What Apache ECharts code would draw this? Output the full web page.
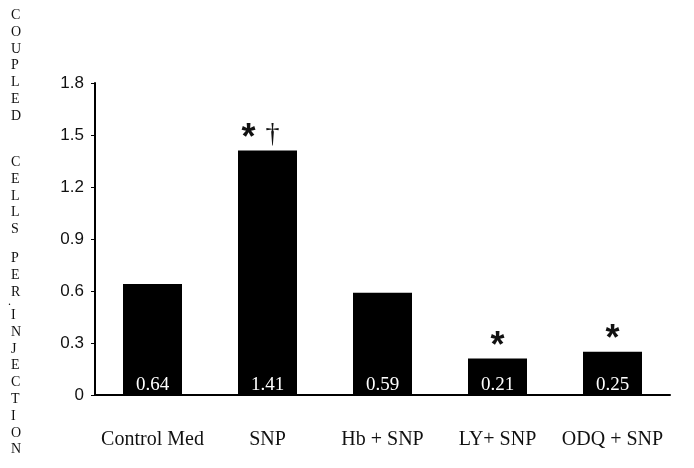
<!DOCTYPE html>
<html>
<head>
<meta charset="utf-8">
<script src="https://cdn.jsdelivr.net/npm/echarts@6/dist/echarts.min.js"></script>
<style>html,body{margin:0;padding:0;background:#fff}#c{width:694px;height:468px}</style>
</head>
<body>
<div id="c"></div>
<script>
const categories = ["Control Med", "SNP", "Hb + SNP", "LY+ SNP", "ODQ + SNP"];
const values = [0.64, 1.41, 0.59, 0.21, 0.25];
const annotations = ["", "* +", "", "*", "*"];
const yTitleWords = ["COUPLED", "CELLS", "PER", "INJECTION"];

const chart = echarts.init(document.getElementById('c'));
const serif = '"Liberation Serif", "Times New Roman", serif';
const sans = '"Liberation Sans", Arial, sans-serif';

const wordTops = [7, 154, 250, 307];
const graphics = yTitleWords.map((w, i) => ({
  type: 'text',
  left: 11,
  top: wordTops[i],
  style: {
    text: w.split('').join('\n'),
    font: '14px ' + serif,
    lineHeight: 16.8,
    fill: '#111',
    align: 'left'
  }
}));
graphics.push({type: 'text', left: 8, top: 296, style: {text: '.', font: '12px ' + serif, fill: '#111'}});

function annot(p) {
  const a = annotations[p.dataIndex];
  if (!a) return '';
  return a.split(' ').map(s => s === '*' ? '{s|*}' : '{d|\u2020}').join('{g| }');
}

chart.setOption({
  animation: false,
  backgroundColor: '#fff',
  graphic: graphics,
  grid: {left: 95, right: 24, top: 83, bottom: 73, containLabel: false},
  xAxis: {
    type: 'category',
    data: categories,
    axisLine: {lineStyle: {color: '#000', width: 2}},
    axisTick: {show: false},
    axisLabel: {color: '#111', fontFamily: serif, fontSize: 20, margin: 35, interval: 0, hideOverlap: false}
  },
  yAxis: {
    type: 'value',
    min: 0,
    max: 1.8,
    interval: 0.3,
    splitLine: {show: false},
    axisLine: {show: true, lineStyle: {color: '#000', width: 2}},
    axisTick: {show: true, length: 4, lineStyle: {color: '#000', width: 1}},
    axisLabel: {color: '#111', fontFamily: sans, fontSize: 17, margin: 11,
      formatter: v => v === 0 ? '0' : v.toFixed(1)}
  },
  series: [
    {
      type: 'bar',
      data: values,
      barWidth: 59,
      itemStyle: {color: '#000'},
      label: {
        show: true,
        position: 'insideBottom',
        distance: 0,
        color: '#fff',
        fontFamily: serif,
        fontSize: 19,
        formatter: p => p.value.toFixed(2)
      }
    },
    {
      type: 'bar',
      data: values,
      barWidth: 59,
      barGap: '-100%',
      silent: true,
      itemStyle: {color: 'rgba(0,0,0,0)'},
      label: {
        show: true,
        position: 'top',
        distance: -6,
        color: '#111',
        formatter: annot,
        rich: {
          s: {fontFamily: sans, fontSize: 36, fontWeight: 'bold', color: '#111', lineHeight: 36, verticalAlign: 'bottom'},
          g: {fontFamily: sans, fontSize: 36, lineHeight: 36, verticalAlign: 'bottom'},
          d: {fontFamily: serif, fontSize: 28, color: '#111', lineHeight: 36, verticalAlign: 'bottom', padding: [0, 14, 8, 0]}
        }
      }
    }
  ]
});
</script>
</body>
</html>
